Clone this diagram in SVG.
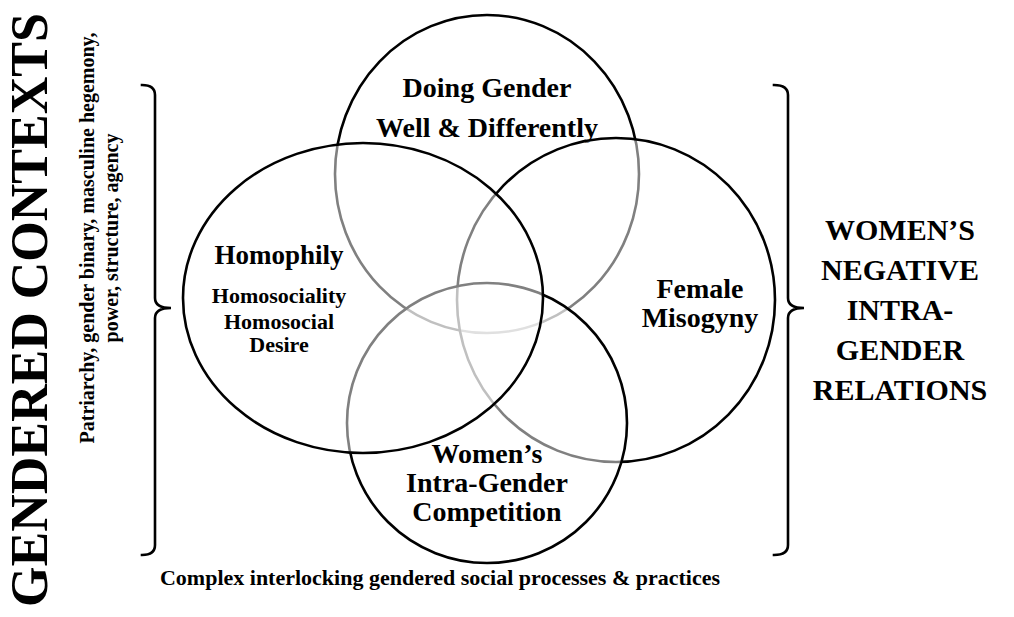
<svg xmlns="http://www.w3.org/2000/svg" width="1014" height="617" viewBox="0 0 1014 617">
<style>
text{font-family:"Liberation Serif","Times New Roman",serif;font-weight:bold;fill:#000;text-anchor:middle}
.c{fill:#fff;fill-opacity:0.5;stroke:#000;stroke-width:2.6}
.br{fill:none;stroke:#000;stroke-width:2.6;stroke-linecap:square}
.t28{font-size:28px}
.t30{font-size:30px}
.t22{font-size:22px}
</style>
<rect width="1014" height="617" fill="#fff"/>
<g id="title-left">
<text transform="translate(47,310) rotate(-90)" font-size="52">GENDERED CONTEXTS</text>
<text transform="translate(94,238) rotate(-90)" font-size="20">Patriarchy, gender binary, masculine hegemony,</text>
<text transform="translate(118,238) rotate(-90)" font-size="20">power, structure, agency</text>
</g>
<g id="brackets">
<path class="br" d="M142,85 Q155,85 155,95 L155,298 Q155,308 171,308 Q155,308 155,318 L155,545 Q155,555 142,555"/>
<path class="br" d="M774,85 Q788,85 788,95 L788,298 Q788,308 804,308 Q788,308 788,318 L788,545 Q788,555 774,555"/>
</g>
<g id="node-doing-gender">
<ellipse class="c" cx="487" cy="174" rx="152" ry="159"/>
<text class="t28" x="487" y="97">Doing Gender</text>
<text class="t28" x="487" y="137">Well &amp; Differently</text>
</g>
<g id="node-female-misogyny">
<ellipse class="c" cx="616" cy="300" rx="159" ry="162"/>
<text class="t28" x="700" y="298">Female</text>
<text class="t28" x="700" y="327">Misogyny</text>
</g>
<g id="node-competition">
<circle class="c" cx="487" cy="423" r="140"/>
<text class="t28" x="487" y="463">Women’s</text>
<text class="t28" x="487" y="492">Intra-Gender</text>
<text class="t28" x="487" y="521">Competition</text>
</g>
<g id="node-homophily">
<ellipse class="c" cx="363" cy="298" rx="180" ry="155"/>
<text x="279" y="264" font-size="27">Homophily</text>
<text class="t22" x="279" y="303">Homosociality</text>
<text class="t22" x="279" y="329">Homosocial</text>
<text class="t22" x="279" y="352">Desire</text>
</g>
<g id="title-right">
<text class="t30" x="900" y="240">WOMEN’S</text>
<text class="t30" x="900" y="280">NEGATIVE</text>
<text class="t30" x="900" y="320">INTRA-</text>
<text class="t30" x="900" y="360">GENDER</text>
<text class="t30" x="900" y="400">RELATIONS</text>
</g>
<g id="caption">
<text class="t22" x="440" y="585">Complex interlocking gendered social processes &amp; practices</text>
</g>
<g id="connectors"></g>
</svg>
